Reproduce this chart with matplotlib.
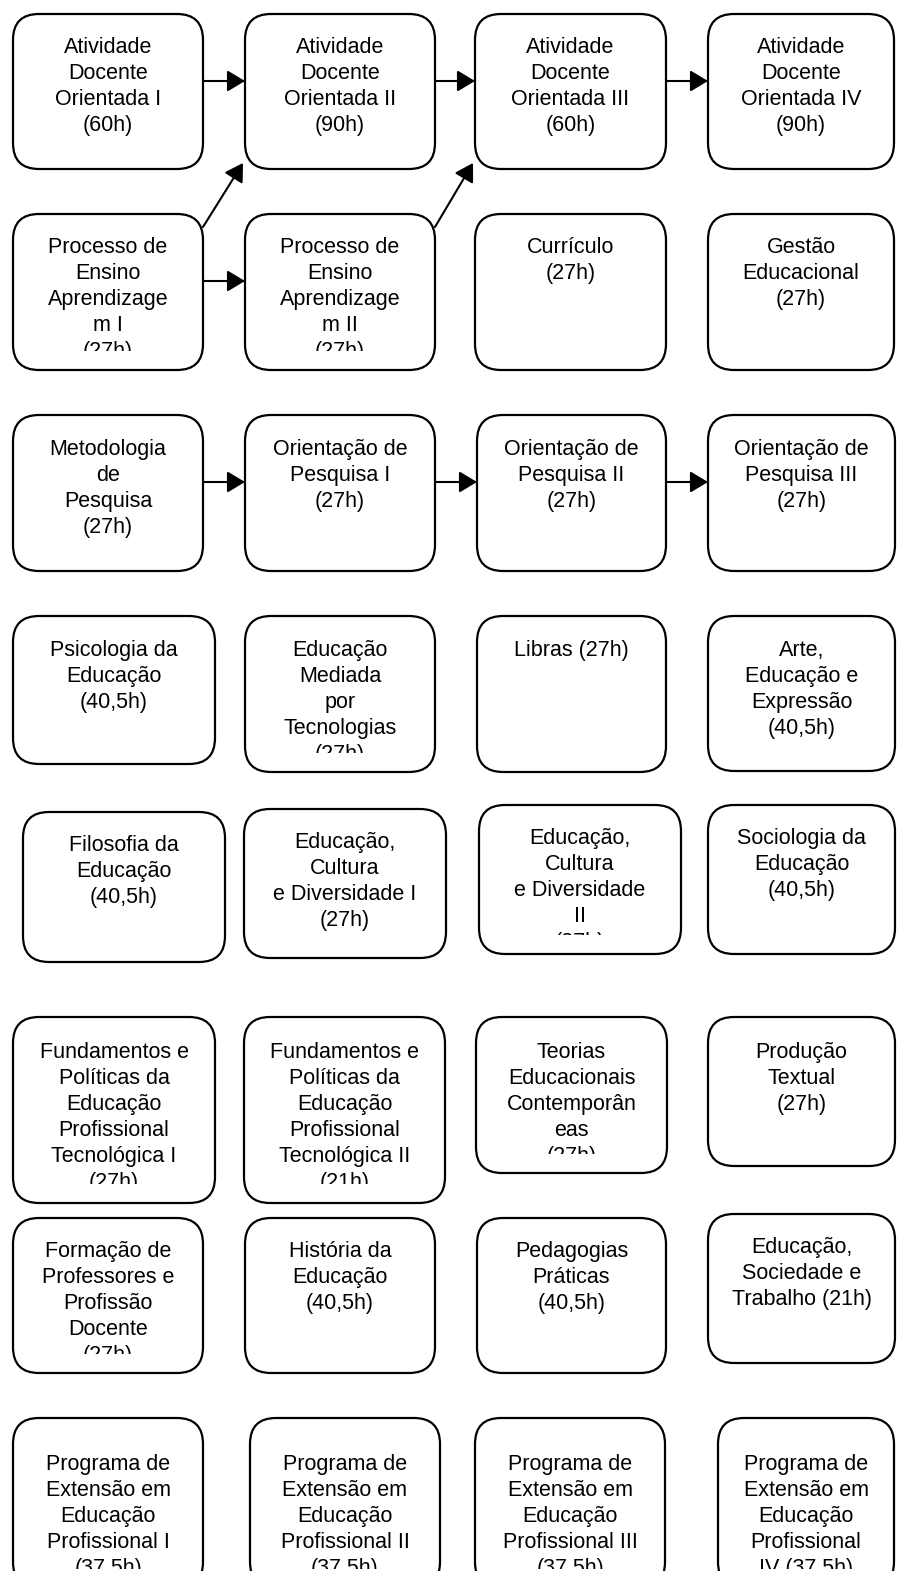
import matplotlib
matplotlib.use('Agg')
import matplotlib.pyplot as plt
from matplotlib.patches import FancyBboxPatch
from matplotlib.transforms import Bbox

# course boxes, row by row (text exactly as broken in the original boxes)
row1 = ['Atividade\nDocente\nOrientada I\n(60h)', 'Atividade\nDocente\nOrientada II\n(90h)',
        'Atividade\nDocente\nOrientada III\n(60h)', 'Atividade\nDocente\nOrientada IV\n(90h)']
row2 = ['Processo de\nEnsino\nAprendizage\nm I\n(27h)', 'Processo de\nEnsino\nAprendizage\nm II\n(27h)',
        'Currículo\n(27h)', 'Gestão\nEducacional\n(27h)']
row3 = ['Metodologia\nde\nPesquisa\n(27h)', 'Orientação de\nPesquisa I\n(27h)',
        'Orientação de\nPesquisa II\n(27h)', 'Orientação de\nPesquisa III\n(27h)']
row4 = ['Psicologia da\nEducação\n(40,5h)', 'Educação\nMediada\npor\nTecnologias\n(27h)',
        'Libras (27h)', 'Arte,\nEducação e\nExpressão\n(40,5h)']
row5 = ['Filosofia da\nEducação\n(40,5h)', 'Educação,\nCultura\ne Diversidade I\n(27h)',
        'Educação,\nCultura\ne Diversidade\nII\n(27h)', 'Sociologia da\nEducação\n(40,5h)']
row6 = ['Fundamentos e\nPolíticas da\nEducação\nProfissional\nTecnológica I\n(27h)',
        'Fundamentos e\nPolíticas da\nEducação\nProfissional\nTecnológica II\n(21h)',
        'Teorias\nEducacionais\nContemporân\neas\n(27h)', 'Produção\nTextual\n(27h)']
row7 = ['Formação de\nProfessores e\nProfissão\nDocente\n(27h)', 'História da\nEducação\n(40,5h)',
        'Pedagogias\nPráticas\n(40,5h)', 'Educação,\nSociedade e\nTrabalho (21h)']
row8 = ['Programa de\nExtensão em\nEducação\nProfissional I\n(37,5h)',
        'Programa de\nExtensão em\nEducação\nProfissional II\n(37,5h)',
        'Programa de\nExtensão em\nEducação\nProfissional III\n(37,5h)',
        'Programa de\nExtensão em\nEducação\nProfissional\nIV (37,5h)']
rows = [row1, row2, row3, row4, row5, row6, row7, row8]

# prerequisite links: (row, col) -> (row, col)
links = [((0, 0), (0, 1)), ((0, 1), (0, 2)), ((0, 2), (0, 3)),
         ((1, 0), (1, 1)), ((1, 0), (0, 1)), ((1, 1), (0, 2)),
         ((2, 0), (2, 1)), ((2, 1), (2, 2)), ((2, 2), (2, 3))]

# layout in pixels (left, top, width, height) per row
lefts = [[13, 245, 475, 708], [13, 245, 475, 708], [13, 245, 477, 708], [13, 245, 477, 708],
         [23, 244, 479, 708], [13, 244, 476, 708], [13, 245, 477, 708], [13, 250, 475, 718]]
tops = [[14] * 4, [214] * 4, [415] * 4, [616] * 4,
        [812, 809, 805, 805], [1017] * 4, [1218, 1218, 1218, 1214], [1418] * 4]
widths = [[190, 190, 191, 186], [190, 190, 191, 186], [190, 190, 189, 187], [202, 190, 189, 187],
          [202, 202, 202, 187], [202, 201, 191, 187], [190, 190, 189, 187], [190, 190, 190, 176]]
heights = [[155] * 4, [156] * 4, [156] * 4, [148, 156, 156, 155],
           [150, 149, 149, 149], [186, 186, 156, 149], [155, 155, 155, 149], [170] * 4]
text_off = [31, 31, 32, 32, 31, 33, 31, 44]

W, H = 897, 1571
fig = plt.figure(figsize=(W / 100, H / 100), dpi=100)
ax = fig.add_axes([0, 0, 1, 1])
ax.set_xlim(0, W)
ax.set_ylim(H, 0)
ax.axis('off')

font = ['Liberation Sans', 'DejaVu Sans']

for r, labels in enumerate(rows):
    for c, label in enumerate(labels):
        x, y = lefts[r][c], tops[r][c]
        w, h = widths[r][c], heights[r][c]
        box = FancyBboxPatch((x, y), w, h, boxstyle='round,pad=0,rounding_size=26',
                             facecolor='white', edgecolor='black', linewidth=1.6, zorder=2)
        ax.add_patch(box)
        # text is cut off at the inner bottom of each box, as in the original
        (x0, y0), (x1, y1) = ax.transData.transform([(x, y), (x + w, y + h - 19)])
        clip = Bbox.from_extents(min(x0, x1), min(y0, y1), max(x0, x1), max(y0, y1))
        t = ax.text(x + w / 2, y + text_off[r] - 8, label, ha='center', va='top',
                    fontsize=15.5, family=font, linespacing=1.31, zorder=3)
        t.set_clip_box(clip)
        t.set_clip_on(True)

for (r0, c0), (r1, c1) in links:
    sx = lefts[r0][c0] + widths[r0][c0]
    tx = lefts[r1][c1]
    if r0 == r1:
        sy = ty = tops[r0][c0] + 67
    else:
        sy = tops[r0][c0] + 13
        tx = tx - 2
        ty = tops[r1][c1] + heights[r1][c1] - 6
    ax.annotate('', xy=(tx, ty), xytext=(sx, sy),
                arrowprops=dict(arrowstyle='-|>,head_length=0.4,head_width=0.24',
                                mutation_scale=27, color='black', lw=1.5,
                                shrinkA=0, shrinkB=0), zorder=1)

fig.savefig('out.png', dpi=100, facecolor='white')
